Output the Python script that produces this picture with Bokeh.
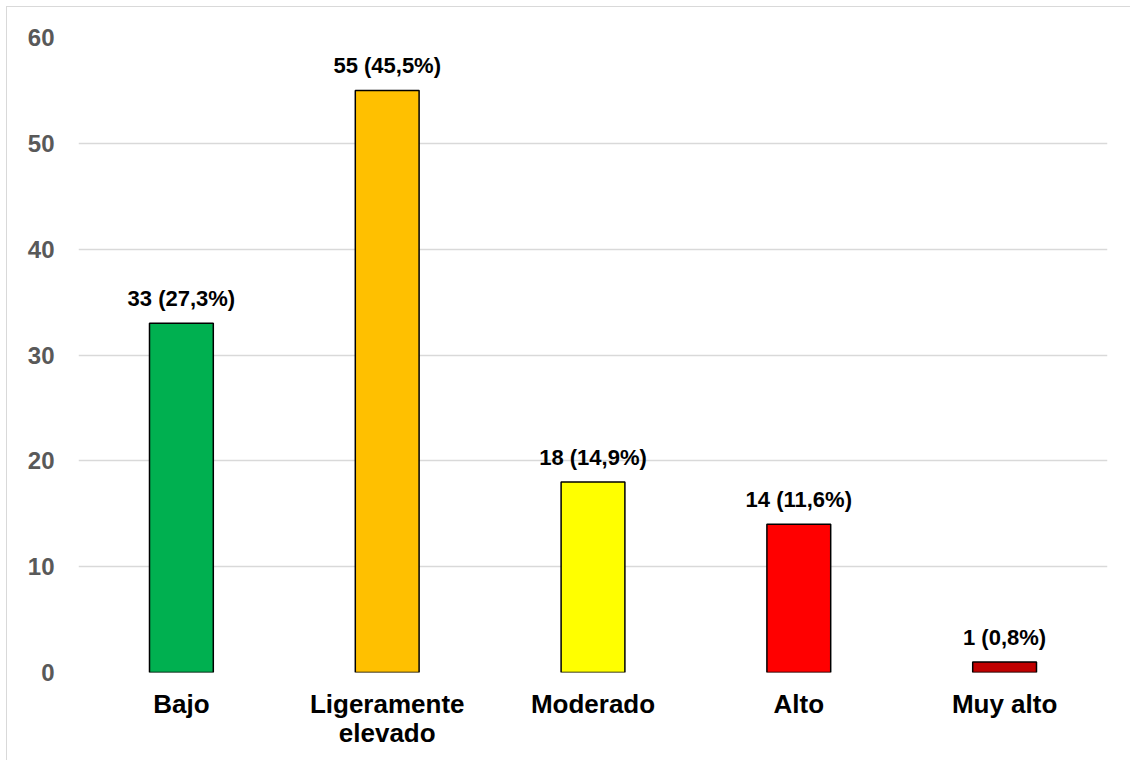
from bokeh.plotting import figure
from bokeh.models import ColumnDataSource, Range1d, FactorRange, LabelSet
from bokeh.core.properties import value
from bokeh.embed import file_html
from bokeh.resources import INLINE

categories = ["Bajo", "Ligeramente\nelevado", "Moderado", "Alto", "Muy alto"]
counts = [33, 55, 18, 14, 1]
labels = ["33 (27,3%)", "55 (45,5%)", "18 (14,9%)", "14 (11,6%)", "1 (0,8%)"]
colors = ["#00B050", "#FFC000", "#FFFF00", "#FF0000", "#C00000"]
y_ticks = [0, 10, 20, 30, 40, 50, 60]

src = ColumnDataSource(dict(cat=categories, val=counts, lab=labels, col=colors))

p = figure(x_range=FactorRange(*categories), y_range=Range1d(0, 60),
           frame_width=1029, frame_height=635,
           min_border_left=71, min_border_top=30, min_border_right=23, min_border_bottom=88,
           output_backend="svg", toolbar_location=None)
p.margin = (6, 0, 0, 6)
p.styles = {"border-left": "1px solid #d9d9d9", "border-top": "1px solid #d9d9d9"}

p.vbar(x="cat", top="val", width=0.31, source=src, fill_color="col",
       line_color="black", line_width=1.5)

p.add_layout(LabelSet(x="cat", y="val", text="lab", source=src, y_offset=17,
                      text_align="center", text_baseline="alphabetic",
                      text_font=value("Liberation Sans"), text_font_style="bold",
                      text_font_size="22px", text_color="black"))

p.outline_line_color = None
p.xgrid.grid_line_color = None
p.ygrid.grid_line_color = "#d9d9d9"
p.ygrid.grid_line_width = 1.5
p.yaxis.ticker = y_ticks
p.yaxis.axis_line_color = None
p.xaxis.axis_line_color = None
p.yaxis.major_tick_line_color = None
p.yaxis.minor_tick_line_color = None
p.xaxis.major_tick_line_color = None
p.yaxis.major_label_standoff = 18
p.xaxis.major_label_standoff = 10
p.yaxis.major_label_text_font = "Liberation Sans"
p.yaxis.major_label_text_font_style = "bold"
p.yaxis.major_label_text_font_size = "24px"
p.yaxis.major_label_text_color = "#595959"
p.xaxis.major_label_text_font = "Liberation Sans"
p.xaxis.major_label_text_font_style = "bold"
p.xaxis.major_label_text_font_size = "26px"
p.xaxis.major_label_text_line_height = 0.97
p.xaxis.major_label_text_color = "black"

open("out.html", "w").write(file_html(p, INLINE))
